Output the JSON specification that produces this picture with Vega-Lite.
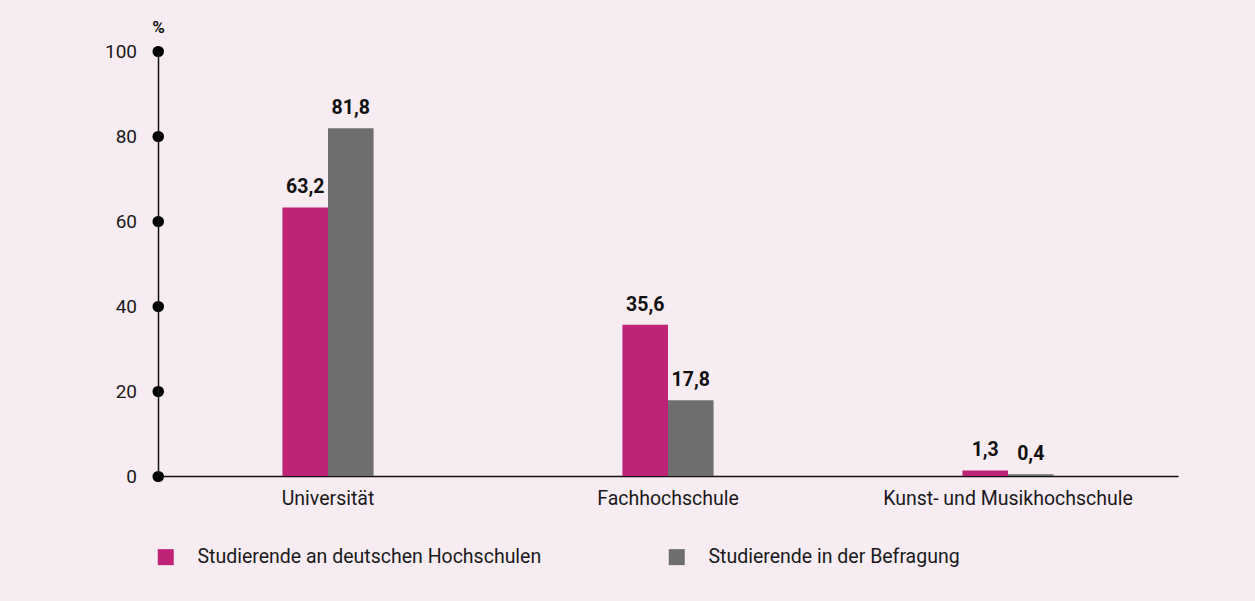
{
  "$schema": "https://vega.github.io/schema/vega-lite/v6.json",
  "width": 1020,
  "height": 425,
  "autosize": {"type": "none"},
  "padding": {"left": 158, "top": 51, "right": 77, "bottom": 125},
  "background": "#f7ecf2",
  "config": {
    "view": {"stroke": null},
    "font": "Roboto",
    "locale": {"number": {"decimal": ",", "thousands": ".", "grouping": [3], "currency": ["", " €"]}}
  },
  "data": {
    "values": [
      {"typ": "Universität", "gruppe": "Studierende an deutschen Hochschulen", "wert": 63.2},
      {"typ": "Universität", "gruppe": "Studierende in der Befragung", "wert": 81.8},
      {"typ": "Fachhochschule", "gruppe": "Studierende an deutschen Hochschulen", "wert": 35.6},
      {"typ": "Fachhochschule", "gruppe": "Studierende in der Befragung", "wert": 17.8},
      {"typ": "Kunst- und Musikhochschule", "gruppe": "Studierende an deutschen Hochschulen", "wert": 1.3},
      {"typ": "Kunst- und Musikhochschule", "gruppe": "Studierende in der Befragung", "wert": 0.4}
    ]
  },
  "encoding": {
    "x": {
      "field": "typ",
      "type": "nominal",
      "sort": ["Universität", "Fachhochschule", "Kunst- und Musikhochschule"],
      "scale": {"paddingInner": 0.732, "paddingOuter": 0.366},
      "axis": {
        "title": null,
        "labelAngle": 0,
        "ticks": false,
        "domainColor": "#111111",
        "domainWidth": 1.5,
        "labelFontSize": 19.5,
        "labelColor": "#1a1a1a",
        "labelPadding": 13,
        "labelLimit": 500
      }
    },
    "xOffset": {
      "field": "gruppe",
      "type": "nominal",
      "sort": ["Studierende an deutschen Hochschulen", "Studierende in der Befragung"],
      "scale": {"paddingInner": 0, "paddingOuter": 0}
    },
    "y": {
      "field": "wert",
      "type": "quantitative",
      "scale": {"domain": [0, 100], "nice": false},
      "axis": {
        "values": [0, 20, 40, 60, 80, 100],
        "grid": false,
        "domainColor": "#111111",
        "domainWidth": 1.5,
        "tickColor": "#000000",
        "tickCap": "round",
        "tickWidth": 11,
        "tickSize": 0.5,
        "labelPadding": 21,
        "labelFontSize": 19,
        "labelColor": "#1a1a1a",
        "title": "%",
        "titleAngle": 0,
        "titleX": 0,
        "titleY": -24,
        "titleAlign": "center",
        "titleBaseline": "middle",
        "titleFontSize": 17,
        "titleFontWeight": "bold",
        "titleColor": "#111111"
      }
    }
  },
  "layer": [
    {
      "mark": {"type": "bar"},
      "encoding": {
        "color": {
          "field": "gruppe",
          "type": "nominal",
          "sort": ["Studierende an deutschen Hochschulen", "Studierende in der Befragung"],
          "scale": {"range": ["#be2375", "#6e6e6e"]},
          "legend": {
            "title": null,
            "orient": "none",
            "legendX": -2,
            "legendY": 496,
            "direction": "horizontal",
            "symbolType": "square",
            "symbolSize": 256,
            "symbolStrokeWidth": 0,
            "symbolOpacity": 1,
            "labelFontSize": 19.5,
            "labelColor": "#1a1a1a",
            "labelOffset": 22,
            "labelLimit": 500,
            "columnPadding": 125
          }
        }
      }
    },
    {
      "mark": {"type": "text", "dy": -20, "fontSize": 19.5, "fontWeight": "bold", "color": "#111111"},
      "encoding": {
        "text": {"field": "wert", "type": "quantitative", "format": ".1f"}
      }
    }
  ]
}
